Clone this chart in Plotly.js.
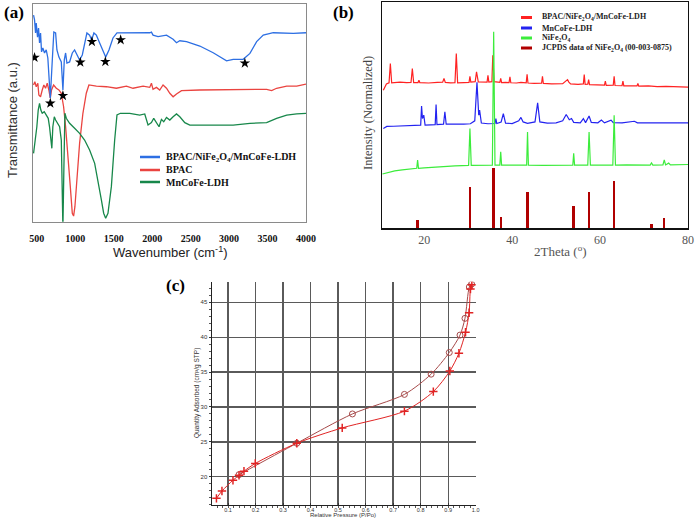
<!DOCTYPE html>
<html>
<head>
<meta charset="utf-8">
<script src="https://cdn.plot.ly/plotly-3.0.1.min.js"></script>
<style>html,body{margin:0;padding:0;background:#fff;}#chart{width:695px;height:520px;}</style>
</head>
<body>
<div id="chart"></div>
<script>
// ---------- (a) FTIR spectra ----------
const compositeWn = [457,470,483,492,509,522,535,548,561,578,600,622,643,665,675,701,721,744,761,787,818,839,857,874,891,926,961,991,1021,1056,1091,1121,1151,1186,1213,1242,1274,1317,1360,1395,1438,1490,1542,1620,1708,1751,1968,1990,2011,2076,2186,2272,2316,2359,2446,2619,2793,2967,3053,3183,3271,3358,3444,3574,3704,3835,4000];
const compositeT = [94.9,92.7,86.7,91.3,84.8,88.9,82.1,86.7,78.0,79.8,77.5,78.9,75.2,61.9,56.8,74.3,87.1,86.7,78.9,75.6,73.4,60.5,74.3,77.5,72.9,73.4,77.5,78.9,76.6,74.3,76.6,82.1,86.7,85.7,83.5,86.7,85.7,82.1,78.0,75.6,78.9,84.4,86.7,86.7,86.7,86.5,86.8,87.1,85.7,85.0,85.7,83.8,82.2,83.1,82.7,80.7,77.6,73.9,74.6,74.6,77.3,82.7,85.7,86.8,86.5,86.5,86.8];

const bpacWn = [457,474,492,513,526,548,570,591,613,635,656,675,691,718,753,787,818,848,874,904,935,961,978,995,1021,1056,1099,1143,1177,1274,1404,1534,1665,1751,1881,1968,1990,2011,2055,2098,2141,2186,2229,2272,2316,2381,2619,3053,3488,3553,3618,3749,3879,4000];
const bpacT = [62.8,64.3,62.0,63.6,58.2,57.4,60.5,62.8,61.3,63.6,60.5,56.8,60.5,62.8,61.3,60.5,59.0,52.8,43.6,31.6,16.1,3.9,2.6,6.9,19.2,36.0,49.8,59.0,62.8,62.3,62.0,61.3,62.3,61.3,62.3,61.7,63.6,60.8,61.7,60.5,62.8,61.3,59.0,57.4,58.7,60.2,60.5,60.8,60.8,60.2,61.3,62.3,62.3,63.2];

const ldhWn = [457,483,500,518,535,552,570,596,622,648,665,682,695,708,727,744,770,796,818,831,839,852,865,883,926,991,1056,1121,1186,1252,1295,1339,1369,1395,1425,1469,1512,1542,1586,1708,1838,1903,1946,1990,2020,2055,2089,2120,2150,2186,2229,2272,2316,2359,2424,2489,2619,2837,3053,3271,3488,3618,3749,3879,4000];
const ldhT = [31.4,37.5,43.6,51.3,54.4,51.3,49.8,50.5,49.0,47.5,43.6,39.0,33.7,43.6,48.2,46.7,45.2,43.6,37.5,10.0,-3,25.3,49.8,47.5,45.2,42.9,40.6,37.5,32.9,26.8,19.2,10.0,3.9,1.6,3.9,16.1,37.5,49.0,49.8,49.8,49.0,49.5,44.4,45.5,47.5,45.2,43.6,47.0,45.9,47.9,46.7,48.2,49.5,48.2,45.5,44.4,44.4,44.4,44.4,45.2,45.5,47.5,49.0,49.5,49.8];

const starWn = [470,675,839,1065,1216,1391,1590,3205];
const starT = [75.4,54.4,57.9,73.2,82.7,73.5,83.5,72.8];
const irTicks = [500,1000,1500,2000,2500,3000,3500,4000];

// ---------- (b) XRD patterns ----------
const compositeTheta = [10.7,11.4,12.0,12.3,12.6,14.5,16.0,17.0,17.3,17.6,18.6,18.8,19.0,21,23,24.2,24.5,24.8,26,27.0,27.3,27.6,29,30.2,30.4,30.6,31.6,31.9,32.3,33.5,34.3,34.5,34.7,35.4,35.6,35.9,37.2,37.4,37.6,38.5,39.3,39.5,39.7,41,42,43.2,43.4,43.6,45,46.7,46.9,47.1,49,51.5,52.3,52.6,52.9,53.3,55,56.2,56.4,56.6,57.2,57.4,57.6,59,61.0,61.2,61.4,63.0,63.2,63.4,65.0,65.2,65.4,66.5,68.4,68.6,68.8,71,73,75,77,80];
const compositeI = [61.0,63.8,64.3,72.8,64.3,64.6,64.4,64.5,70.6,64.4,64.4,65.4,64.4,64.2,64.5,64.6,66.2,64.5,64.3,64.4,77.2,64.3,64.4,64.5,67.2,64.6,64.8,69.1,64.7,64.5,64.6,67.6,64.6,64.8,76.5,64.8,64.5,66.2,64.4,64.5,64.4,66.9,64.3,64.2,64.5,64.3,68.1,64.2,64.0,64.1,67.2,64.0,63.8,63.9,65.2,65.7,64.6,63.8,63.6,63.8,67.9,63.6,63.7,65.7,63.5,63.4,63.3,65.0,63.2,63.3,67.2,63.1,63.0,65.0,62.9,63.0,62.9,64.0,62.8,62.9,62.6,62.7,62.5,62.4];

const ldhTheta = [10.7,11.5,13,15,17,18.5,19.2,19.4,19.6,19.9,20.2,21.5,22.5,22.7,22.9,24.4,24.7,25.0,27,29,30.5,31.5,32.0,32.4,32.6,33.0,34.5,36.1,36.3,36.5,37.5,38.0,38.5,40,41.5,42.0,42.5,43.5,45.2,45.8,46.3,48,50,51.5,52.3,53.0,53.5,54.0,55.5,56.2,56.7,57.5,58,59.5,60.3,61,62.5,63,65,67.8,68.5,72,76,80];
const ldhI = [44.1,45.0,45.1,45.3,45.4,45.5,45.6,54.0,48.5,50.0,45.6,45.7,45.8,54.7,45.8,46.0,51.5,46.0,45.9,46.0,46.2,47.5,64.5,50.0,52.2,46.5,46.2,46.3,48.5,46.3,47.0,50.7,46.5,46.3,47.5,49.0,47.0,46.4,47.0,55.4,47.0,46.5,46.6,47.5,50.3,48.0,48.5,46.8,46.6,48.5,46.7,49.6,46.8,46.6,47.8,46.6,47.8,46.7,46.6,47.3,46.6,46.6,46.5,46.6];

const ferriteTheta = [10.5,12,13.3,15,17.1,18.3,18.5,18.7,20,22.5,24.7,27,30.1,30.4,30.7,33,35.5,35.8,36.1,37.2,37.4,37.6,40,43.3,43.5,43.7,47,50,53.8,54.0,54.2,57.2,57.5,57.8,60,62.9,63.2,63.5,66,69,71.4,71.7,72.0,74.3,74.6,74.9,75.6,76.0,78,80];
const ferriteI = [24.0,24.8,25.4,25.8,26.3,26.5,30.1,26.5,26.7,27.1,27.5,27.6,27.8,44.1,27.8,27.9,27.9,86.8,27.9,27.9,33.8,27.9,27.9,27.9,42.6,27.9,27.8,27.9,27.9,33.1,27.9,27.9,42.6,27.9,27.9,27.9,50.0,27.9,28.0,27.9,27.9,28.9,27.9,28.0,30.2,28.0,28.8,28.0,28.1,28.2];

const jcpdsTheta = [18.5,30.4,35.8,37.4,43.5,54.0,57.5,63.2,71.7,74.6];
const jcpdsI = [3.7,18.4,26.5,4.9,16.2,9.9,16.2,21.0,1.8,4.4];
const xrdTicks = [20,40,60,80];

// ---------- (c) N2 isotherm ----------
const adsP = [0.058,0.078,0.118,0.140,0.158,0.199,0.350,0.515,0.741,0.846,0.906,0.939,0.963,0.976,0.981,0.986];
const adsQ = [16.9,17.95,19.5,20.2,20.8,21.9,24.8,27.0,29.4,32.2,35.15,37.7,40.7,43.5,46.9,47.5];
const desP = [0.985,0.977,0.961,0.943,0.904,0.838,0.741,0.552,0.350,0.140];
const desQ = [47.6,47.2,42.7,40.3,37.8,34.7,31.8,29.0,24.8,20.3];

const serif = 'Liberation Serif';
const sans = 'Liberation Sans';

const irColors = {composite:'#2d6fe3', bpac:'#ea4440', ldh:'#17874a'};
const xrdColors = {composite:'#ff2222', ldh:'#2323f0', ferrite:'#3cec3c', jcpds:'#b00000'};

const traces = [
  {x: bpacWn, y: bpacT, type:'scatter', mode:'lines', line:{color:irColors.bpac, width:1.3}, xaxis:'x', yaxis:'y', name:'BPAC'},
  {x: ldhWn, y: ldhT, type:'scatter', mode:'lines', line:{color:irColors.ldh, width:1.3}, xaxis:'x', yaxis:'y', name:'MnCoFe-LDH'},
  {x: compositeWn, y: compositeT, type:'scatter', mode:'lines', line:{color:irColors.composite, width:1.3}, xaxis:'x', yaxis:'y', name:'BPAC/NiFe2O4/MnCoFe-LDH'},
  {x: starWn, y: starT, type:'scatter', mode:'markers', marker:{symbol:'star', size:8, color:'#000'}, xaxis:'x', yaxis:'y', hoverinfo:'skip'},

  {x: jcpdsTheta, y: jcpdsI, type:'bar', width:0.55, marker:{color:xrdColors.jcpds, line:{width:0}}, xaxis:'x2', yaxis:'y2', name:'JCPDS'},
  {x: compositeTheta, y: compositeI, type:'scatter', mode:'lines', line:{color:xrdColors.composite, width:1.2}, xaxis:'x2', yaxis:'y2'},
  {x: ldhTheta, y: ldhI, type:'scatter', mode:'lines', line:{color:xrdColors.ldh, width:1.2}, xaxis:'x2', yaxis:'y2'},
  {x: ferriteTheta, y: ferriteI, type:'scatter', mode:'lines', line:{color:xrdColors.ferrite, width:1.2}, xaxis:'x2', yaxis:'y2'},

  {x: desP, y: desQ, type:'scatter', mode:'lines+markers', line:{color:'#a64a4a', width:1, shape:'spline', smoothing:0.8},
   marker:{symbol:'circle-open', size:6, color:'#a64a4a', line:{width:1}}, xaxis:'x3', yaxis:'y3'},
  {x: adsP, y: adsQ, type:'scatter', mode:'lines+markers', line:{color:'#e02424', width:1, shape:'spline', smoothing:0.8},
   marker:{symbol:'cross-thin', size:6, color:'#e02424', line:{width:1.5, color:'#e02424'}}, xaxis:'x3', yaxis:'y3'}
];

function px(x){return x/695;}
function py(y){return 1 - y/520;}

const legendA = [
  {label:'BPAC/NiFe<sub>2</sub>O<sub>4</sub>/MnCoFe-LDH', color:irColors.composite, y:157},
  {label:'BPAC', color:irColors.bpac, y:170},
  {label:'MnCoFe-LDH', color:irColors.ldh, y:182}
];
const legendB = [
  {label:'BPAC/NiFe<sub>2</sub>O<sub>4</sub>/MnCoFe-LDH', color:xrdColors.composite, y:17.5},
  {label:'MnCoFe-LDH', color:xrdColors.ldh, y:28},
  {label:'NiFe<sub>2</sub>O<sub>4</sub>', color:xrdColors.ferrite, y:38},
  {label:'JCPDS data of NiFe<sub>2</sub>O<sub>4</sub> (00-003-0875)', color:xrdColors.jcpds, y:48}
];

const shapes = [];
const annotations = [];
legendA.forEach(e => {
  shapes.push({type:'line', xref:'paper', yref:'paper', x0:px(140), x1:px(160), y0:py(e.y), y1:py(e.y), line:{color:e.color, width:2.5}});
  annotations.push({xref:'paper', yref:'paper', x:px(164), y:py(e.y), xanchor:'left', yanchor:'middle', showarrow:false,
    text:'<b>'+e.label+'</b>', font:{family:serif, size:10, color:'#111'}});
});
legendB.forEach(e => {
  shapes.push({type:'line', xref:'paper', yref:'paper', x0:px(521), x1:px(532), y0:py(e.y), y1:py(e.y), line:{color:e.color, width:3}});
  annotations.push({xref:'paper', yref:'paper', x:px(540), y:py(e.y), xanchor:'left', yanchor:'middle', showarrow:false,
    text:'<b>'+e.label+'</b>', font:{family:serif, size:8, color:'#222'}});
});

const txt = (t, x, y, font, extra) => Object.assign({xref:'paper', yref:'paper', x:px(x), y:py(y), text:t, showarrow:false, xanchor:'center', yanchor:'middle', font:font}, extra||{});
annotations.push(
  txt('<b>(a)</b>', 2, 12, {family:serif, size:17, color:'#000'}, {xanchor:'left'}),
  txt('<b>(b)</b>', 331, 12, {family:serif, size:17, color:'#000'}, {xanchor:'left'}),
  txt('<b>(c)</b>', 164, 285, {family:serif, size:17, color:'#000'}, {xanchor:'left'}),
  txt('Wavenumber (cm<sup>-1</sup>)', 170, 252, {family:sans, size:13, color:'#222'}),
  txt('Transmittance (a.u.)', 12, 120, {family:sans, size:13, color:'#333'}, {textangle:-90}),
  txt('2Theta (<sup>o</sup>)', 560, 251, {family:serif, size:13, color:'#555'}),
  txt('Intensity (Normalized)', 368, 113, {family:serif, size:12.5, color:'#444'}, {textangle:-90}),
  txt('Relative Pressure (P/Po)', 343, 520, {family:sans, size:6, color:'#333'}, {yanchor:'bottom'}),
  txt('Quantity Adsorbed (cm³/g STP)', 197, 393, {family:sans, size:6.5, color:'#333'}, {textangle:-90})
);

const layout = {
  width:695, height:520, margin:{l:0, r:0, t:0, b:0},
  paper_bgcolor:'#fff', plot_bgcolor:'#fff', showlegend:false, bargap:0,
  font:{family:serif},
  xaxis:{anchor:'y', domain:[px(33), px(306)], range:[450, 4000], tickvals:irTicks,
    ticktext:irTicks.map(v => '<b>' + v + '</b>'),
    tickfont:{family:serif, size:10, color:'#111'}, ticks:'outside', ticklen:7, tickcolor:'rgba(0,0,0,0)',
    showline:true, mirror:true, linecolor:'#8a8a8a', linewidth:1, showgrid:false, zeroline:false},
  yaxis:{anchor:'x', domain:[py(221.7), py(4)], range:[0, 100], showticklabels:false, ticks:'',
    showline:true, mirror:true, linecolor:'#8a8a8a', linewidth:1, showgrid:false, zeroline:false},
  xaxis2:{anchor:'y2', domain:[px(382), px(688)], range:[10.4, 80], tickvals:xrdTicks,
    tickfont:{family:serif, size:12, color:'#555'}, ticks:'', ticklen:0,
    showline:true, mirror:true, linecolor:'#111', linewidth:1.3, showgrid:false, zeroline:false},
  yaxis2:{anchor:'x2', domain:[py(228.3), py(2)], range:[0, 100], showticklabels:false, ticks:'',
    showline:true, mirror:true, linecolor:'#111', linewidth:1.3, showgrid:false, zeroline:false},
  xaxis3:{anchor:'y3', domain:[px(211.5), px(475.7)], range:[0.04, 1.0], tick0:0.1, dtick:0.1, tickformat:'.1f',
    tickfont:{family:sans, size:5.5, color:'#333'}, ticks:'inside', ticklen:2, tickcolor:'#333', ticklabelstandoff:-1,
    minor:{dtick:0.02, ticks:'outside', ticklen:1.5, tickcolor:'#555', showgrid:false},
    showline:true, linecolor:'#222', linewidth:1, showgrid:true, gridcolor:'#5a5a5a', gridwidth:1.3, zeroline:false},
  yaxis3:{anchor:'x3', domain:[py(505), py(281.7)], range:[15.95, 47.95], tickvals:[20,25,30,35,40,45],
    tickfont:{family:sans, size:6, color:'#333'}, ticks:'outside', ticklen:2, tickcolor:'#333',
    minor:{dtick:1, ticks:'outside', ticklen:1.5, tickcolor:'#555', showgrid:false},
    showline:true, linecolor:'#222', linewidth:1, showgrid:true, gridcolor:'#5a5a5a', gridwidth:1.3, zeroline:false},
  shapes:shapes,
  annotations:annotations
};

Plotly.newPlot('chart', traces, layout, {displayModeBar:false, staticPlot:true});
</script>
</body>
</html>
